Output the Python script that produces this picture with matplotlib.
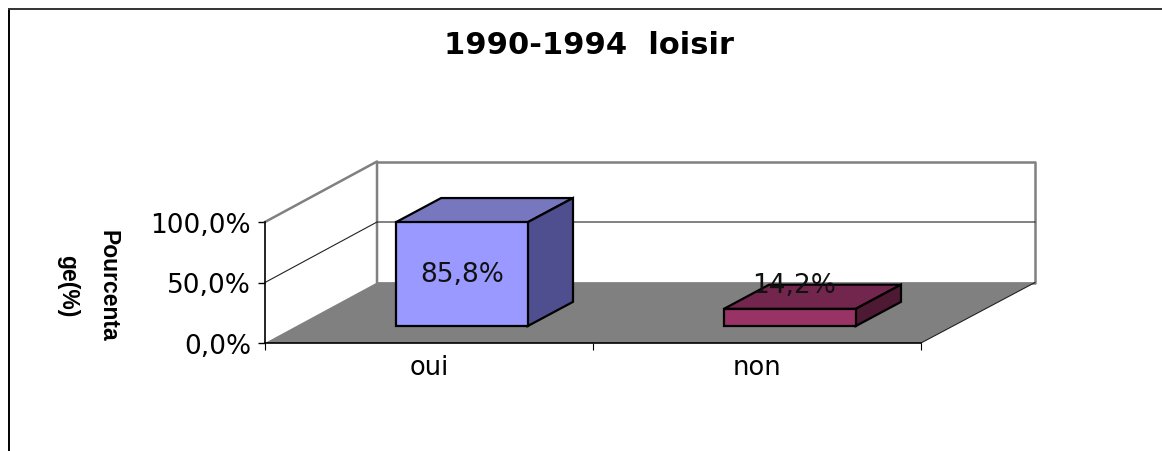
import matplotlib
matplotlib.use('Agg')
import matplotlib.pyplot as plt
from matplotlib.lines import Line2D
from matplotlib.patches import Polygon

# Data
categories = ['oui', 'non']
values = [85.8, 14.2]
yticks = [0, 50, 100]
front_colors = ['#9999FF', '#993366']
top_colors = ['#7777C0', '#73264D']
side_colors = ['#4F4F8F', '#4D1933']

W, H = 1162, 452
fig = plt.figure(figsize=(W / 100, H / 100), dpi=100)

# axes is the front plane of the fake 3D box
left, right, top, bottom = 265, 921, 223, 344
ax = fig.add_axes([left / W, 1 - bottom / H, (right - left) / W, (bottom - top) / H])
ax.set_xlim(0, 2)
ax.set_ylim(0, 100)
ax.patch.set_visible(False)

# depth of the box, in data units
dx, dy = 0.3415, 50
dx_right = 0.3475
# bars sit partway into the box
bar_dx, bar_dy = 0.1, 14
depth_x, depth_y = 0.138, 20
bar_w = 0.402

GRAY = '#808080'

# floor
ax.add_patch(Polygon([(0, 0), (2, 0), (2 + dx_right, dy), (dx, dy)], fc=GRAY, ec='none',
                     clip_on=False, zorder=1))

# walls
ax.plot([0, dx, dx], [100, 100 + dy, dy], color=GRAY, lw=1.8, clip_on=False, zorder=2)
ax.plot([dx, 2 + dx_right, 2 + dx_right, dx], [100 + dy, 100 + dy, dy, dy], color=GRAY, lw=1.8,
        clip_on=False, zorder=2)
ax.plot([0, dx, 2 + dx_right], [50, 50 + dy, 50 + dy], color='#222222', lw=0.8, clip_on=False, zorder=2)
ax.plot([2, 2 + dx_right], [0, dy], color='#222222', lw=0.8, clip_on=False, zorder=2)

# bars
for i, v in enumerate(values):
    x0 = i + 0.5 - bar_w / 2 + bar_dx
    x1 = x0 + bar_w
    y0 = bar_dy
    y1 = bar_dy + v
    ax.add_patch(Polygon([(x0, y1), (x1, y1), (x1 + depth_x, y1 + depth_y), (x0 + depth_x, y1 + depth_y)],
                         fc=top_colors[i], ec='black', lw=1.6, clip_on=False, zorder=3))
    ax.add_patch(Polygon([(x1, y0), (x1 + depth_x, y0 + depth_y), (x1 + depth_x, y1 + depth_y), (x1, y1)],
                         fc=side_colors[i], ec='black', lw=1.6, clip_on=False, zorder=3))
    ax.add_patch(Polygon([(x0, y0), (x1, y0), (x1, y1), (x0, y1)],
                         fc=front_colors[i], ec='black', lw=1.6, clip_on=False, zorder=4))

# value labels
label_x = [0.6, 1.612]
label_y = [57, 48]
for i, v in enumerate(values):
    ax.text(label_x[i], label_y[i], f'{v:.1f}%'.replace('.', ','), ha='center', va='center',
            fontsize=19, color='#111111', zorder=5, clip_on=False)

# axes
for s in ['top', 'right']:
    ax.spines[s].set_visible(False)
for s in ['left', 'bottom']:
    ax.spines[s].set_color('black')
    ax.spines[s].set_linewidth(1.2)
    ax.spines[s].set_zorder(6)

ax.set_yticks(yticks)
ax.set_yticklabels([f'{t:.1f}%'.replace('.', ',') for t in yticks], fontsize=19)
ax.tick_params(axis='y', length=5, width=1, pad=5)

ax.set_xticks([0.5, 1.5])
ax.set_xticklabels(categories, fontsize=18.5)
ax.set_xticks([0, 1, 2], minor=True)
ax.tick_params(axis='x', which='major', length=0, pad=8)
ax.tick_params(axis='x', which='minor', length=5, width=0.8)

# axis title, wraps like the original
fig.text(88 / W, 1 - 286 / H, 'Pourcenta\nge(%)', rotation=270, ha='center', va='center',
         family='Liberation Sans', fontweight='bold', fontsize=16.5, linespacing=1.95,
         multialignment='center')

fig.text(589 / W, 1 - 45 / H, '1990-1994  loisir', ha='center', va='center',
         fontweight='bold', fontsize=22)

# outer frame, cut off on the right and bottom
fig.add_artist(Line2D([9 / W, 9 / W], [0, 1 - 10 / H], color='black', lw=1.4))
fig.add_artist(Line2D([9 / W, 1], [1 - 10 / H, 1 - 10 / H], color='#333333', lw=1.4))

fig.savefig('out.png', dpi=100, facecolor='white')
